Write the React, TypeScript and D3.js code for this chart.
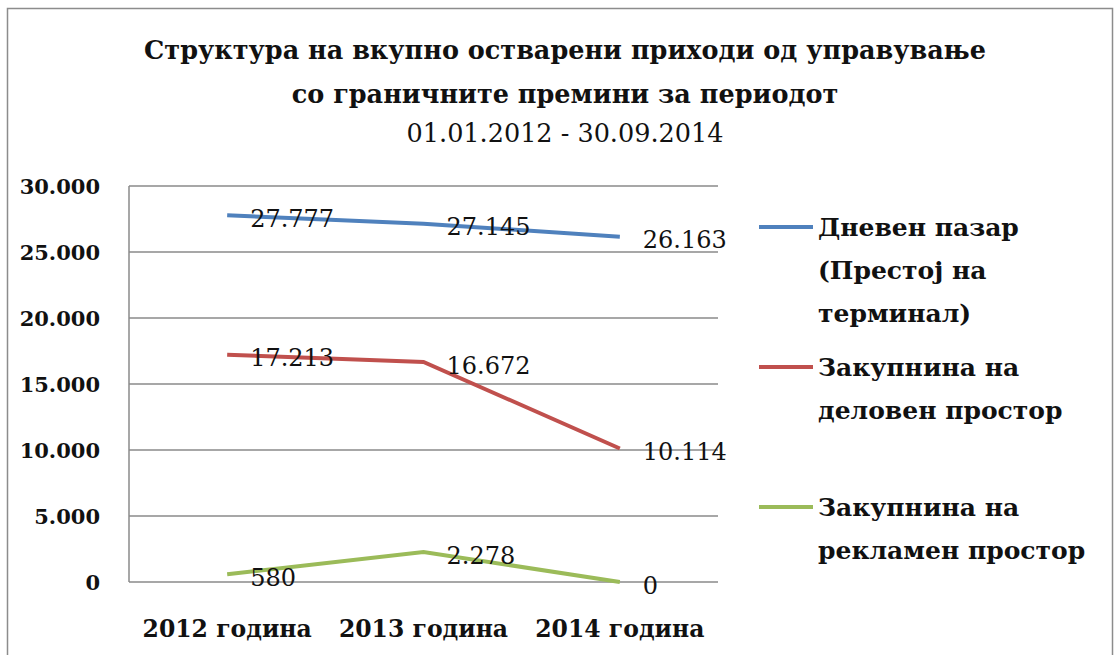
import React from "react";
import * as d3 from "d3";

const categories = ["2012 година", "2013 година", "2014 година"];
const seriesNames = [
  ["Дневен пазар", "(Престој на", "терминал)"],
  ["Закупнина на", "деловен простор"],
  ["Закупнина на", "рекламен простор"],
];
const dnevenPazar = [27777, 27145, 26163];
const delovenProstor = [17213, 16672, 10114];
const reklamenProstor = [580, 2278, 0];
const yTicks = [0, 5000, 10000, 15000, 20000, 25000, 30000];
const titleLines = [
  "Структура на вкупно остварени приходи од управување",
  "со граничните премини за периодот",
  "01.01.2012 - 30.09.2014",
];
const colors = ["#4F81BD", "#C0504D", "#9BBB59"];

const fmt = (v: number) => d3.format(",")(v).replace(/,/g, ".");

const FONT = "'DejaVu Serif', serif";

export default function App() {
  const W = 1115, H = 655;
  const left = 129, right = 718, top = 186, bottom = 582;
  const x = d3.scaleBand().domain(categories).range([left, right]);
  const y = d3.scaleLinear().domain([0, 30000]).range([bottom, top]);
  const cx = (c: string) => (x(c) as number) + x.bandwidth() / 2;
  const series = [dnevenPazar, delovenProstor, reklamenProstor];
  const line = d3
    .line<number>()
    .x((_, i) => cx(categories[i]))
    .y((d) => y(d));
  const legendY = [227, 367, 507];

  return (
    <svg width={W} height={H} style={{ position: "absolute", left: 0, top: 0, background: "#fff" }}>
      <rect x={7.5} y={8.5} width={1105} height={680} fill="#fff" stroke="#8c8c8c" strokeWidth={1.5} />
      {titleLines.map((t, i) => (
        <text
          key={i}
          x={565}
          y={[59, 103, 142][i]}
          textAnchor="middle"
          fontFamily={FONT}
          fontWeight={i < 2 ? "bold" : "normal"}
          fontSize={25.5}
          fill="#111"
        >
          {t}
        </text>
      ))}
      {yTicks.map((t) => (
        <g key={t}>
          <line x1={left} x2={right} y1={y(t)} y2={y(t)} stroke="#8a8a8a" strokeWidth={1.5} />
          <text x={100} y={y(t)} dy="0.36em" textAnchor="end" fontFamily={FONT} fontWeight="bold" fontSize={21} fill="#111">
            {fmt(t)}
          </text>
        </g>
      ))}
      <line x1={left} x2={left} y1={top} y2={bottom} stroke="#8a8a8a" strokeWidth={1.5} />
      {categories.map((c) => (
        <text key={c} x={cx(c)} y={637} textAnchor="middle" fontFamily={FONT} fontWeight="bold" fontSize={23.5} fill="#111">
          {c}
        </text>
      ))}
      {series.map((s, i) => (
        <path key={i} d={line(s) || ""} fill="none" stroke={colors[i]} strokeWidth={4} />
      ))}
      {series.map((s, i) =>
        s.map((v, j) => (
          <text
            key={i + "-" + j}
            x={cx(categories[j]) + 23}
            y={y(v) + 3}
            dy="0.36em"
            fontFamily={FONT}
            fontSize={24}
            fill="#111"
          >
            {fmt(v)}
          </text>
        ))
      )}
      {seriesNames.map((lines, i) => (
        <g key={i}>
          <line x1={759} x2={813} y1={legendY[i]} y2={legendY[i]} stroke={colors[i]} strokeWidth={4} />
          {lines.map((l, k) => (
            <text
              key={k}
              x={818}
              y={legendY[i] + k * 43}
              dy="0.36em"
              fontFamily={FONT}
              fontWeight="bold"
              fontSize={25}
              fill="#111"
            >
              {l}
            </text>
          ))}
        </g>
      ))}
    </svg>
  );
}
